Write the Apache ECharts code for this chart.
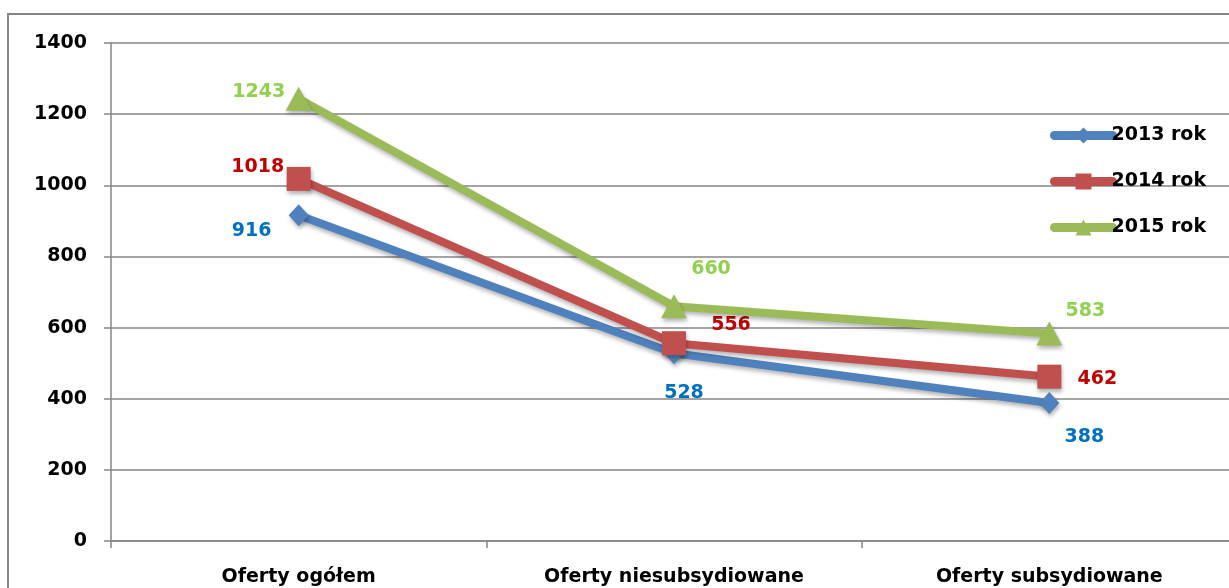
<!DOCTYPE html>
<html>
<head>
<meta charset="utf-8">
<script src="https://cdn.jsdelivr.net/npm/echarts@6/dist/echarts.min.js"></script>
<style>
html,body{margin:0;padding:0;background:#fff;}
#chart{width:1229px;height:588px;}
</style>
</head>
<body>
<div id="chart"></div>
<script>
const categories = ['Oferty ogółem', 'Oferty niesubsydiowane', 'Oferty subsydiowane'];
const seriesNames = ['2013 rok', '2014 rok', '2015 rok'];
const values2013 = [916, 528, 388];
const values2014 = [1018, 556, 462];
const values2015 = [1243, 660, 583];
const yTicks = [0, 200, 400, 600, 800, 1000, 1200, 1400];

const FONT = 'DejaVu Sans';
const lineColors = ['#4F81BD', '#C0504D', '#9BBB59'];
const labelColors = ['#0070C0', '#C00000', '#92D050'];
const symbols = ['diamond', 'rect', 'triangle'];
const symbolSizes = [[20, 22], 24, [26, 24]];
const labelOffsets = [
  [[-47, 16], [10, 40], [35, 34]],
  [[-41, -12], [57, -18], [48, 2]],
  [[-40, -7], [37, -37], [36, -23]]
];
const allValues = [values2013, values2014, values2015];

const chart = echarts.init(document.getElementById('chart'), null, {renderer: 'canvas'});

const series = allValues.map((vals, i) => ({
  name: seriesNames[i],
  type: 'line',
  data: vals.map((v, j) => ({
    value: v,
    label: {offset: labelOffsets[i][j]}
  })),
  symbol: symbols[i],
  symbolSize: symbolSizes[i],
  showAllSymbol: true,
  lineStyle: {
    color: lineColors[i], width: 8,
    shadowColor: 'rgba(0,0,0,0.3)', shadowBlur: 4, shadowOffsetX: 1, shadowOffsetY: 3
  },
  itemStyle: {
    color: lineColors[i], borderWidth: 0,
    shadowColor: 'rgba(0,0,0,0.3)', shadowBlur: 4, shadowOffsetX: 1, shadowOffsetY: 3
  },
  emphasis: {disabled: true},
  label: {
    show: true,
    position: 'inside',
    color: labelColors[i],
    fontFamily: FONT,
    fontWeight: 'bold',
    fontSize: 19
  },
  z: 2 + i
}));

chart.setOption({
  animation: false,
  backgroundColor: '#fff',
  graphic: [{
    type: 'rect',
    shape: {x: 8, y: 14, width: 1400, height: 700},
    style: {fill: 'none', stroke: '#868686', lineWidth: 2},
    silent: true,
    z: -10
  }],
  grid: {left: 111, top: 43, width: 1126, height: 498, outerBoundsMode: 'none', containLabel: false},
  legend: {
    orient: 'vertical',
    left: 1050,
    top: 126,
    padding: 0,
    itemWidth: 58,
    itemHeight: 20,
    itemGap: 27,
    data: seriesNames,
    lineStyle: {width: 9, cap: 'round', shadowBlur: 0, shadowOffsetX: 0, shadowOffsetY: 0},
    itemStyle: {shadowBlur: 0, shadowOffsetX: 0, shadowOffsetY: 0},
    textStyle: {fontFamily: FONT, fontWeight: 'bold', fontSize: 19, color: '#000', padding: [0, 0, 0, -6]}
  },
  xAxis: {
    type: 'category',
    data: categories,
    boundaryGap: true,
    axisLine: {lineStyle: {color: '#868686', width: 1.5}},
    axisTick: {show: true, length: 7, lineStyle: {color: '#868686', width: 1.5}},
    axisLabel: {fontFamily: FONT, fontWeight: 'bold', fontSize: 19, color: '#000', margin: 27},
    splitLine: {show: false}
  },
  yAxis: {
    type: 'value',
    min: yTicks[0],
    max: yTicks[yTicks.length - 1],
    interval: yTicks[1] - yTicks[0],
    axisLine: {show: true, lineStyle: {color: '#868686', width: 1.5}},
    axisTick: {show: true, length: 7, lineStyle: {color: '#868686', width: 1.5}},
    axisLabel: {fontFamily: FONT, fontWeight: 'bold', fontSize: 19, color: '#000', margin: 24,
      formatter: v => String(v)},
    splitLine: {show: true, lineStyle: {color: '#868686', width: 1.5}}
  },
  series: series
});
</script>
</body>
</html>
